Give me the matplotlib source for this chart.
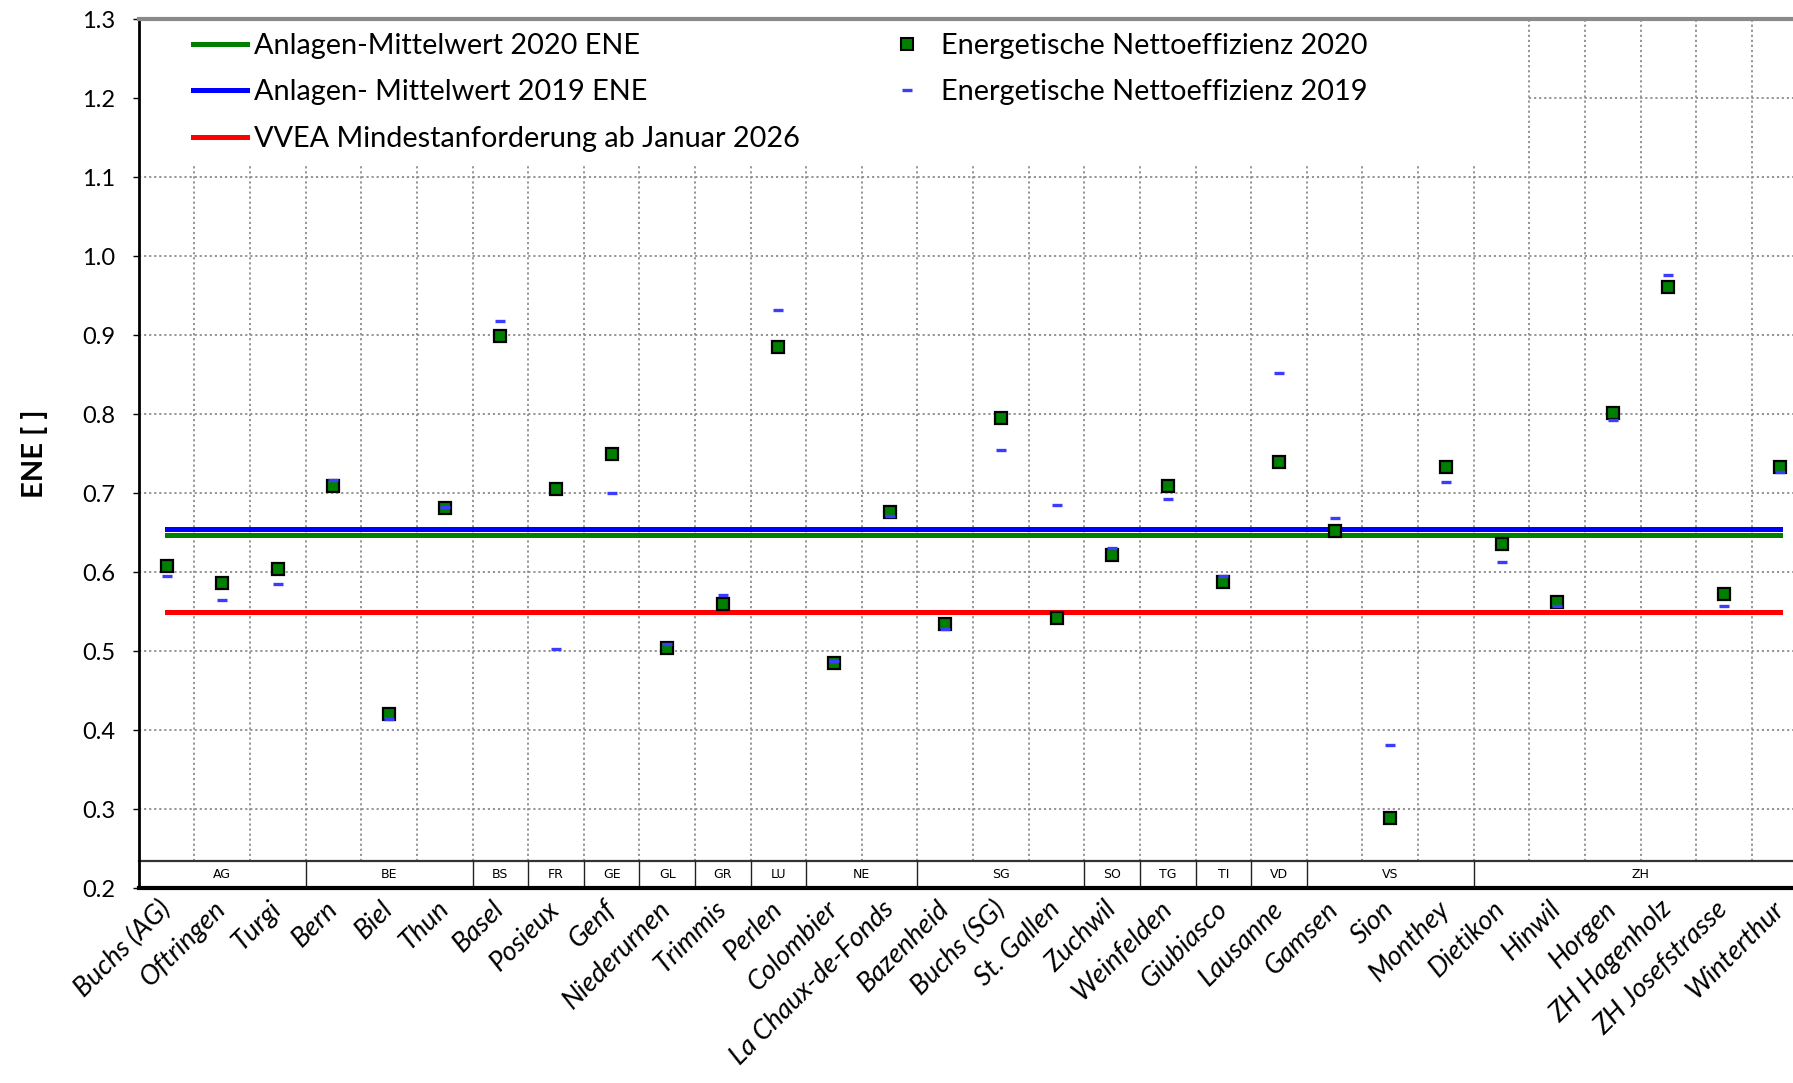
import numpy as np
import matplotlib
matplotlib.use('Agg')
import matplotlib.pyplot as plt
from matplotlib.lines import Line2D
from matplotlib.patches import Rectangle

plt.rcParams['font.family'] = ['Lato', 'DejaVu Sans']

# Anlagen (KVA) und Kantone
plants = ['Buchs (AG)', 'Oftringen', 'Turgi', 'Bern', 'Biel', 'Thun', 'Basel', 'Posieux',
          'Genf', 'Niederurnen', 'Trimmis', 'Perlen', 'Colombier', 'La Chaux-de-Fonds',
          'Bazenheid', 'Buchs (SG)', 'St. Gallen', 'Zuchwil', 'Weinfelden', 'Giubiasco',
          'Lausanne', 'Gamsen', 'Sion', 'Monthey', 'Dietikon', 'Hinwil', 'Horgen',
          'ZH Hagenholz', 'ZH Josefstrasse', 'Winterthur']
cantons = ['AG', 'BE', 'BS', 'FR', 'GE', 'GL', 'GR', 'LU', 'NE', 'SG', 'SO', 'TG', 'TI', 'VD', 'VS', 'ZH']
canton_sizes = [3, 3, 1, 1, 1, 1, 1, 1, 2, 3, 1, 1, 1, 1, 3, 6]

# Energetische Nettoeffizienz
ene_2020 = [0.608, 0.587, 0.604, 0.709, 0.421, 0.681, 0.899, 0.705, 0.750, 0.504,
            0.560, 0.885, 0.486, 0.677, 0.535, 0.795, 0.542, 0.622, 0.709, 0.588,
            0.740, 0.653, 0.289, 0.733, 0.636, 0.563, 0.802, 0.961, 0.573, 0.733]
ene_2019 = [0.595, 0.565, 0.585, 0.717, 0.415, 0.683, 0.918, 0.503, 0.700, 0.509,
            0.571, 0.932, 0.488, 0.672, 0.529, 0.755, 0.686, 0.631, 0.693, 0.595,
            0.852, 0.669, 0.381, 0.714, 0.613, 0.557, 0.793, 0.977, 0.557, 0.727]

mean_2020 = 0.648
mean_2019 = 0.655
vvea_min = 0.55

y_ticks = [0.2, 0.3, 0.4, 0.5, 0.6, 0.7, 0.8, 0.9, 1.0, 1.1, 1.2, 1.3]

fig = plt.figure(figsize=(17.93, 10.83), dpi=100)
ax = fig.add_axes([0.0774, 0.1796, 0.9226, 0.8025])

x = np.arange(len(plants))
ax.set_xlim(-0.5, 29.24)
ax.set_ylim(0.2, 1.3)

band_top = 0.235
legend_y = 1.116
legend_x = 24.5

# Gitter (gepunktet)
grid_kw = dict(color='#8c8c8c', linestyle=(0, (1.2, 1.6)), linewidth=1.3, zorder=1)
for yv in y_ticks[1:-1]:
    if yv > legend_y:
        ax.plot([legend_x, 29.24], [yv, yv], **grid_kw)
    else:
        ax.axhline(yv, **grid_kw)
for k in range(len(plants)):
    xv = k + 0.5
    top = legend_y if xv < legend_x else 1.3
    ax.plot([xv, xv], [band_top, top], **grid_kw)

# Mittelwerte und Mindestanforderung
ax.plot(x, [mean_2020] * len(x), color='#008000', lw=3.6, zorder=3)
ax.plot(x, [mean_2019] * len(x), color='#0000ff', lw=3.6, zorder=3)
ax.plot(x, [vvea_min] * len(x), color='#ff0000', lw=3.6, zorder=3)

# Punkte
ax.plot(x, ene_2020, linestyle='none', marker='s', markersize=8.6,
        markerfacecolor='#008000', markeredgecolor='black', markeredgewidth=1.6, zorder=4)
ax.plot(x, ene_2019, linestyle='none', marker='_', markersize=6.5,
        markeredgecolor='#3c3cff', markeredgewidth=2.4, zorder=5)

# Kantonsband unten
ax.add_patch(Rectangle((-0.5, 0.2), 30, band_top - 0.2, facecolor='white',
                       edgecolor='none', zorder=2))
ax.plot([-0.5, 29.5], [band_top, band_top], color='#333333', lw=1.6, zorder=3, clip_on=False)
start = -0.5
for c, n in zip(cantons, canton_sizes):
    end = start + n
    ax.plot([end, end], [0.2, band_top], color='#222222', lw=1.0, zorder=3)
    ax.text((start + end) / 2, (0.2 + band_top) / 2, c, ha='center', va='center',
            fontsize=9, family=['Liberation Sans Narrow', 'DejaVu Sans'], zorder=4)
    start = end

# Legende
handles = [
    Line2D([], [], color='#008000', lw=3.6),
    Line2D([], [], color='#0000ff', lw=3.6),
    Line2D([], [], color='#ff0000', lw=3.6),
    Line2D([], [], linestyle='none', marker='s', markersize=8, markerfacecolor='#008000',
           markeredgecolor='black', markeredgewidth=1.5),
    Line2D([], [], linestyle='none', marker='_', markersize=6.5,
           markeredgecolor='#3c3cff', markeredgewidth=2.4),
]
labels = ['Anlagen-Mittelwert 2020 ENE', 'Anlagen- Mittelwert 2019 ENE',
          'VVEA Mindestanforderung ab Januar 2026',
          'Energetische Nettoeffizienz 2020', 'Energetische Nettoeffizienz 2019']
leg = ax.legend(handles, labels, ncol=2, loc='upper left', bbox_to_anchor=(0.017, 1.0146),
                frameon=False, fontsize=20.8, handlelength=1.86, handletextpad=0.24,
                labelspacing=0.72, columnspacing=2.8)
leg.set_zorder(6)

# Achsen
ax.set_yticks(y_ticks)
ax.set_yticklabels([f'{v:.1f}' for v in y_ticks], fontsize=17)
ax.tick_params(axis='y', direction='out', length=4, width=1, pad=13)
ax.set_xticks(x)
ax.set_xticklabels(plants, rotation=45, ha='right', va='center', rotation_mode='anchor',
                   fontsize=19.5, style='italic')
ax.tick_params(axis='x', length=0, pad=12)
ax.set_ylabel('ENE [ ]', fontsize=21, fontweight='bold')
ax.yaxis.set_label_coords(-0.055, 0.5)

ax.spines['left'].set_linewidth(2)
ax.spines['left'].set_color('black')
ax.spines['bottom'].set_linewidth(3)
ax.spines['bottom'].set_color('black')
ax.spines['top'].set_linewidth(3)
ax.spines['top'].set_color('#8a8a8a')
ax.spines['right'].set_visible(False)
for s in ax.spines.values():
    s.set_zorder(7)

fig.savefig('out.png', dpi=100)
